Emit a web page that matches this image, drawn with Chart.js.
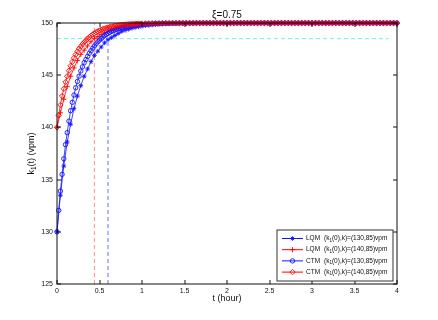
<!DOCTYPE html>
<html>
<head>
<meta charset="utf-8">
<script src="https://cdn.jsdelivr.net/npm/chart.js@4.4.1/dist/chart.umd.min.js"></script>
<style>
  html, body { margin: 0; padding: 0; background: #fff; }
  #wrap { width: 438px; height: 320px; }
</style>
</head>
<body>
<div id="wrap"><canvas id="ch" width="438" height="320"></canvas></div>
<script>
// time axis (hour)
const hours = [0, 0.04, 0.08, 0.12, 0.16, 0.2, 0.24, 0.28, 0.32, 0.36,
  0.4, 0.44, 0.48, 0.52, 0.56, 0.6, 0.64, 0.68, 0.72, 0.76,
  0.8, 0.84, 0.88, 0.92, 0.96, 1, 1.04, 1.08, 1.12, 1.16,
  1.2, 1.24, 1.28, 1.32, 1.36, 1.4, 1.44, 1.48, 1.52, 1.56,
  1.6, 1.64, 1.68, 1.72, 1.76, 1.8, 1.84, 1.88, 1.92, 1.96,
  2, 2.04, 2.08, 2.12, 2.16, 2.2, 2.24, 2.28, 2.32, 2.36,
  2.4, 2.44, 2.48, 2.52, 2.56, 2.6, 2.64, 2.68, 2.72, 2.76,
  2.8, 2.84, 2.88, 2.92, 2.96, 3, 3.04, 3.08, 3.12, 3.16,
  3.2, 3.24, 3.28, 3.32, 3.36, 3.4, 3.44, 3.48, 3.52, 3.56,
  3.6, 3.64, 3.68, 3.72, 3.76, 3.8, 3.84, 3.88, 3.92, 3.96,
  4];
// CTM is sampled finer during the rise
const hoursCtm = [0, 0.02, 0.04, 0.06, 0.08, 0.1, 0.12, 0.14, 0.16, 0.18,
  0.2, 0.22, 0.24, 0.26, 0.28, 0.3, 0.32, 0.34, 0.36, 0.38,
  0.4, 0.42, 0.44, 0.46, 0.48, 0.5, 0.52, 0.54, 0.56, 0.58,
  0.6, 0.62, 0.64, 0.66, 0.68, 0.7, 0.72, 0.74, 0.76, 0.78,
  0.8, 0.82, 0.84, 0.86, 0.88, 0.9, 0.92, 0.94, 0.96, 0.98,
  1].concat(hours.slice(26));

// k1(t) in vpm
const lqm130 = [130, 133.5, 136.3, 138.6, 140.3, 141.8, 143.0, 144.0, 144.9, 145.6,
  146.3, 146.9, 147.3, 147.7, 148.1, 148.4, 148.6, 148.8, 149.0, 149.2,
  149.3, 149.4, 149.5, 149.57, 149.63, 149.69, 149.74, 149.78, 149.81, 149.84,
  149.87, 149.89, 149.91, 149.92, 149.93, 149.94, 149.95, 149.96, 149.97, 149.97,
  149.98, 149.98, 149.98, 149.99, 149.99, 149.99, 149.99, 149.99, 150, 150,
  150, 150, 150, 150, 150, 150, 150, 150, 150, 150,
  150, 150, 150, 150, 150, 150, 150, 150, 150, 150,
  150, 150, 150, 150, 150, 150, 150, 150, 150, 150,
  150, 150, 150, 150, 150, 150, 150, 150, 150, 150,
  150, 150, 150, 150, 150, 150, 150, 150, 150, 150,
  150];
const lqm140 = [140, 141.4, 142.7, 143.9, 144.9, 145.7, 146.4, 147.0, 147.4, 147.8,
  148.2, 148.5, 148.7, 148.9, 149.07, 149.22, 149.34, 149.44, 149.53, 149.6,
  149.66, 149.72, 149.76, 149.8, 149.83, 149.86, 149.88, 149.9, 149.91, 149.93,
  149.94, 149.95, 149.96, 149.96, 149.97, 149.97, 149.98, 149.98, 149.98, 149.99,
  149.99, 149.99, 149.99, 149.99, 149.99, 150, 150, 150, 150, 150,
  150, 150, 150, 150, 150, 150, 150, 150, 150, 150,
  150, 150, 150, 150, 150, 150, 150, 150, 150, 150,
  150, 150, 150, 150, 150, 150, 150, 150, 150, 150,
  150, 150, 150, 150, 150, 150, 150, 150, 150, 150,
  150, 150, 150, 150, 150, 150, 150, 150, 150, 150,
  150];
const ctm130 = [130, 132.05, 133.9, 135.5, 137.0, 138.35, 139.5, 140.6, 141.6, 142.4,
  143.1, 143.8, 144.4, 144.9, 145.4, 145.8, 146.2, 146.5, 146.8, 147.1,
  147.35, 147.58, 147.8, 148.0, 148.2, 148.36, 148.5, 148.66, 148.8, 148.9,
  149.0, 149.1, 149.2, 149.26, 149.33, 149.4, 149.45, 149.51, 149.55, 149.6,
  149.63, 149.67, 149.7, 149.73, 149.75, 149.78, 149.8, 149.82, 149.84, 149.85,
  149.87,
  149.89, 149.91, 149.93, 149.94, 149.95, 149.96, 149.97, 149.97, 149.98, 149.98,
  149.99, 149.99, 149.99, 149.99, 149.99, 150, 150, 150, 150, 150,
  150, 150, 150, 150, 150, 150, 150, 150, 150, 150,
  150, 150, 150, 150, 150, 150, 150, 150, 150, 150,
  150, 150, 150, 150, 150, 150, 150, 150, 150, 150,
  150, 150, 150, 150, 150, 150, 150, 150, 150, 150,
  150, 150, 150, 150, 150, 150, 150, 150, 150, 150,
  150, 150, 150, 150, 150];
const ctm140 = [140, 141.15, 142.15, 143.0, 143.7, 144.35, 144.9, 145.43, 145.9, 146.28,
  146.65, 146.98, 147.27, 147.53, 147.76, 147.97, 148.16, 148.33, 148.5, 148.65,
  148.78, 148.9, 149.01, 149.11, 149.2, 149.28, 149.35, 149.42, 149.47, 149.53,
  149.57, 149.62, 149.66, 149.69, 149.72, 149.75, 149.77, 149.8, 149.82, 149.83,
  149.85, 149.87, 149.88, 149.89, 149.9, 149.91, 149.92, 149.93, 149.94, 149.94,
  149.95,
  149.96, 149.97, 149.97, 149.98, 149.98, 149.99, 149.99, 149.99, 149.99, 149.99,
  150, 150, 150, 150, 150, 150, 150, 150, 150, 150,
  150, 150, 150, 150, 150, 150, 150, 150, 150, 150,
  150, 150, 150, 150, 150, 150, 150, 150, 150, 150,
  150, 150, 150, 150, 150, 150, 150, 150, 150, 150,
  150, 150, 150, 150, 150, 150, 150, 150, 150, 150,
  150, 150, 150, 150, 150, 150, 150, 150, 150, 150,
  150, 150, 150, 150, 150];

// guide lines
const threshold = 148.5;
const thresholdEnd = 3.9;
const tRed = 0.44;
const tBlue = 0.6;

const seriesNames = ['LQM', 'LQM', 'CTM', 'CTM'];
const seriesInit = ['(130,85)', '(140,85)', '(130,85)', '(140,85)'];

const FONT = "'Liberation Sans', Arial, sans-serif";
const BLUE = 'rgb(20,20,255)';
const RED = 'rgb(255,0,0)';

function pts(xs, ys) {
  return xs.map((x, i) => ({ x: x, y: ys[i] }));
}

function curve(data, color, style, r, order) {
  return {
    data: data, borderColor: color, borderWidth: 0.8,
    pointStyle: style, pointRadius: r, pointBorderWidth: 0.9,
    pointBorderColor: color, pointBackgroundColor: 'rgba(0,0,0,0)',
    tension: 0, clip: false, order: order
  };
}

function guide(data, color) {
  return {
    data: data, borderColor: color, borderWidth: 1, borderDash: [4, 3],
    pointRadius: 0, order: 10
  };
}

const datasets = [
  curve(pts(hours, lqm130), BLUE, 'star', 2.3, 4),
  curve(pts(hours, lqm140), RED, 'cross', 2.6, 3),
  curve(pts(hoursCtm, ctm130), BLUE, 'circle', 2.2, 2),
  curve(pts(hoursCtm, ctm140), RED, 'rectRot', 2.7, 1),
  guide([{ x: 0, y: threshold }, { x: thresholdEnd, y: threshold }], 'rgb(120,235,235)'),
  guide([{ x: tRed, y: 125 }, { x: tRed, y: 150 }], 'rgb(255,140,140)'),
  guide([{ x: tBlue, y: 125 }, { x: tBlue, y: threshold }], 'rgb(110,110,255)')
];

// draws text pieces, the ones flagged true as subscripts
function drawParts(ctx, parts, x, y, size) {
  let cx = x;
  parts.forEach(p => {
    const s = p[1] ? size * 0.7 : size;
    ctx.font = s + 'px ' + FONT;
    ctx.fillText(p[0], cx, p[1] ? y + size * 0.3 : y);
    cx += ctx.measureText(p[0]).width;
  });
  return cx;
}
function partsWidth(ctx, parts, size) {
  let w = 0;
  parts.forEach(p => {
    ctx.font = (p[1] ? size * 0.7 : size) + 'px ' + FONT;
    w += ctx.measureText(p[0]).width;
  });
  return w;
}

const decor = {
  id: 'decor',
  afterDraw(chart) {
    const ctx = chart.ctx, a = chart.chartArea;
    const xs = chart.scales.x, ys = chart.scales.y;
    ctx.save();

    // axes box and inward ticks
    ctx.strokeStyle = '#111';
    ctx.lineWidth = 1;
    ctx.strokeRect(Math.round(a.left), Math.round(a.top), Math.round(a.right - a.left), Math.round(a.bottom - a.top));
    ctx.beginPath();
    ys.ticks.forEach(t => {
      const y = Math.round(ys.getPixelForValue(t.value));
      ctx.moveTo(a.left, y); ctx.lineTo(a.left + 4, y);
      ctx.moveTo(a.right, y); ctx.lineTo(a.right - 4, y);
    });
    xs.ticks.forEach(t => {
      const x = Math.round(xs.getPixelForValue(t.value));
      ctx.moveTo(x, a.bottom); ctx.lineTo(x, a.bottom - 4);
      ctx.moveTo(x, a.top); ctx.lineTo(x, a.top + 4);
    });
    ctx.stroke();

    ctx.fillStyle = '#111';
    ctx.textBaseline = 'middle';
    // title
    ctx.textAlign = 'center';
    ctx.font = '10px ' + FONT;
    ctx.fillText('\u03BE=0.75', (a.left + a.right) / 2, 15);
    // x label
    ctx.font = '9px ' + FONT;
    ctx.fillText('t (hour)', (a.left + a.right) / 2, 299);
    // y label
    ctx.textAlign = 'left';
    const yl = [['k', false], ['1', true], ['(t) (vpm)', false]];
    ctx.save();
    ctx.translate(32, (a.top + a.bottom) / 2);
    ctx.rotate(-Math.PI / 2);
    drawParts(ctx, yl, -partsWidth(ctx, yl, 9) / 2, 0, 9);
    ctx.restore();

    // legend
    const lx = 277, ly = 230, lw = 116, lh = 51;
    ctx.fillStyle = '#fff';
    ctx.fillRect(lx, ly, lw, lh);
    ctx.strokeStyle = '#333';
    ctx.strokeRect(lx, ly, lw, lh);
    for (let i = 0; i < 4; i++) {
      const ds = chart.data.datasets[i];
      const y = ly + 8.5 + i * 11.2;
      ctx.strokeStyle = ds.borderColor;
      ctx.lineWidth = 1;
      ctx.beginPath();
      ctx.moveTo(282, y); ctx.lineTo(303, y);
      ctx.stroke();
      ctx.lineWidth = ds.pointBorderWidth;
      ctx.fillStyle = 'rgba(0,0,0,0)';
      Chart.helpers.drawPoint(ctx, { pointStyle: ds.pointStyle, radius: ds.pointRadius, rotation: 0, borderWidth: ds.pointBorderWidth }, 292.5, y);
      ctx.fillStyle = '#111';
      ctx.font = '6.5px ' + FONT;
      ctx.fillText(seriesNames[i], 306, y);
      drawParts(ctx, [['(k', false], ['1', true], ['(0),k)=' + seriesInit[i] + 'vpm', false]], 324, y, 6.5);
    }
    ctx.restore();
  }
};

new Chart(document.getElementById('ch'), {
  type: 'line',
  data: { datasets: datasets },
  options: {
    responsive: false,
    animation: false,
    devicePixelRatio: 1,
    layout: { padding: { left: 0, right: 41, top: 23, bottom: 0 } },
    plugins: { legend: { display: false }, title: { display: false }, tooltip: { enabled: false } },
    scales: {
      x: {
        type: 'linear', min: 0, max: 4,
        grid: { display: false, drawTicks: false },
        border: { display: false },
        ticks: { stepSize: 0.5, padding: 3, color: '#111', font: { family: FONT, size: 7 }, maxRotation: 0,
          callback: v => String(v) },
        afterFit: s => { s.height = 36; }
      },
      y: {
        type: 'linear', min: 125, max: 150,
        grid: { display: false, drawTicks: false },
        border: { display: false },
        ticks: { stepSize: 5, padding: 4, color: '#111', font: { family: FONT, size: 7 } },
        afterFit: s => { s.width = 57; }
      }
    }
  },
  plugins: [decor]
});
</script>
</body>
</html>
